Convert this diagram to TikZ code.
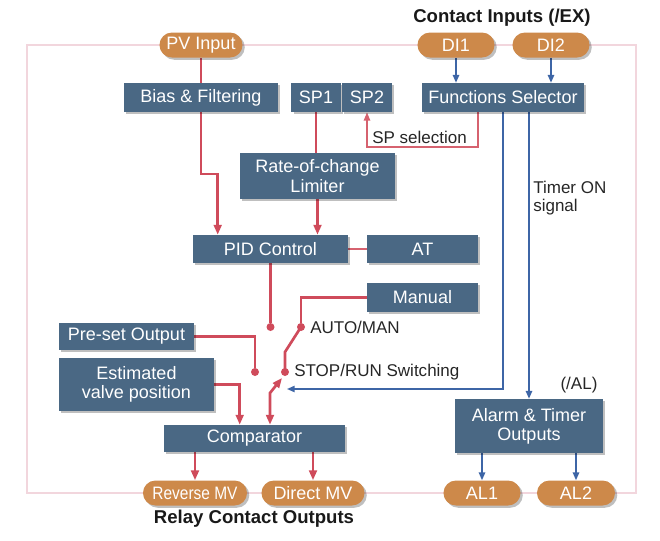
\documentclass[tikz,border=0pt]{standalone}
\usepackage{fontspec}
\setmainfont{Liberation Sans}
\usetikzlibrary{shapes,arrows.meta,positioning,calc,shadows,backgrounds}

\definecolor{boxblue}{HTML}{4A6884}
\definecolor{pillorange}{HTML}{CD894A}
\definecolor{wirered}{HTML}{CF4B5B}
\definecolor{selred}{HTML}{D6626F}
\definecolor{wireblue}{HTML}{3D65A6}
\definecolor{framepink}{HTML}{F2D6DD}

\tikzset{
  box/.style={fill=boxblue, text=white, minimum height=0.725cm, inner sep=0pt, align=center,
    font=\fontsize{12.8}{13.6}\selectfont,
    drop shadow={shadow xshift=1.6pt, shadow yshift=-1.6pt, fill=black, opacity=0.25}},
  pill/.style={shape=rounded rectangle, fill=pillorange, text=white, minimum height=0.625cm,
    inner sep=0pt, font=\fontsize{12.8}{13.6}\selectfont,
    drop shadow={shadow xshift=1.6pt, shadow yshift=-1.6pt, fill=black, opacity=0.25}},
  dot/.style={circle, fill=wirered, minimum size=0.2cm, inner sep=0pt},
  lbl/.style={inner sep=0pt, text=black!85, align=left, font=\fontsize{12.1}{12.6}\selectfont},
  ttl/.style={inner sep=0pt, text=black!90, font=\bfseries\fontsize{13.2}{14}\selectfont},
  wire/.style={wirered, line width=1.9pt},
  wirearrow/.style={wire, -{Triangle[length=7pt,width=5.5pt]}},
  selarrow/.style={selred, line width=1.3pt, -{Triangle[length=6pt,width=4.5pt]}},
  sig/.style={wireblue, line width=1.1pt},
  sigarrow/.style={sig, -{Triangle[length=5.5pt,width=4.5pt]}},
  border/.style={framepink, line width=1.4pt}
}

\begin{document}
\begin{tikzpicture}[x=0.025cm, y=-0.025cm]
    \useasboundingbox (0,0) rectangle (660,541);

    % Inputs and outputs
    \node[pill, minimum width=2.075cm] (pv) at (201,45) {PV Input};
    \node[pill, minimum width=1.925cm] (di1) at (456,45) {DI1};
    \node[pill, minimum width=1.925cm] (di2) at (551,45) {DI2};
    \node[pill, minimum width=2.6cm] (rev) at (195,493) {\scalebox{0.86}[1]{Reverse MV}};
    \node[pill, minimum width=2.575cm] (dir) at (313,493) {Direct MV};
    \node[pill, minimum width=1.925cm] (al1) at (482,493) {AL1};
    \node[pill, minimum width=1.95cm] (al2) at (576,493) {AL2};
    \node[ttl] (cin) at (502,18) {Contact Inputs (/EX)};
    \node[ttl] (rco) at (254,519) {Relay Contact Outputs};

    % Blocks
    \node[box, minimum width=3.85cm] (bias) at (201,97.5) {Bias \& Filtering};
    \node[box, minimum width=1.225cm] (spone) at (316,97.5) {SP1};
    \node[box, minimum width=1.25cm] (sptwo) at (367,97.5) {SP2};
    \node[box, minimum width=4.05cm] (fsel) at (503,97.5) {Functions Selector};
    \node[box, minimum width=3.875cm, minimum height=1.15cm] (rate) at (317.5,176) {Rate-of-change\\Limiter};
    \node[box, minimum width=3.875cm, minimum height=0.7cm] (pid) at (270.5,249) {PID Control};
    \node[box, minimum width=2.775cm, minimum height=0.7cm] (at) at (422.5,249) {AT};
    \node[box, minimum width=2.775cm] (manual) at (422.5,297.5) {Manual};
    \node[box, minimum width=3.375cm, minimum height=0.675cm] (preset) at (126.5,336.5) {Pre-set Output};
    \node[box, minimum width=3.875cm, minimum height=1.325cm] (est) at (136.5,384.5) {Estimated\\valve position};
    \node[box, minimum width=4.525cm, minimum height=0.675cm] (comp) at (254.5,438.5) {Comparator};
    \node[box, minimum width=3.7cm, minimum height=1.35cm] (alarm) at (529,426) {Alarm \& Timer\\Outputs};

    % Switch contacts
    \node[dot] (dpid) at (270.5,327) {};
    \node[dot] (dauto) at (301,327) {};
    \node[dot] (dpre) at (255,372) {};
    \node[dot] (dstop) at (285,372) {};
    \coordinate (bladebend) at (285,352);
    \coordinate (bladetip) at (282,378);
    \coordinate (bladeknee) at (270,393);
    \coordinate (stoptip) at (287,389);

    % Labels
    \node[lbl, anchor=west] (spsel) at (372,137) {SP selection};
    \node[lbl, anchor=west] (timer) at (533,198) {Timer ON\\signal};
    \node[lbl, anchor=west] (automan) at (310,327) {AUTO/MAN};
    \node[lbl, anchor=west] (stoprun) at (294,372) {STOP/RUN Switching};
    \node[lbl] (altag) at (579,385) {(/AL)};

    \begin{scope}[on background layer]
        \draw[border] (27,45) rectangle (636,493); % outer frame

        % PV path
        \draw[wire] (pv.south) -- (pv.south |- bias.north);
        \draw[wirearrow] (bias.south) -- (201,174) -| ([xshift=0.625cm]pid.north west);

        % SP path
        \draw[wire] (spone.south) -- (spone.south |- rate.north);
        \draw[wirearrow] (rate.south) -- (rate.south |- pid.north);
        \draw[selarrow] ([xshift=1.4cm]fsel.south west) -- ++(0,35) -| (sptwo.south);
        \draw[selred, line width=1.3pt] (pid.east) -- (at.west);

        % Switching
        \draw[wire] (pid.south) -- (dpid);
        \draw[wire] (manual.west) -| (dauto);
        \draw[wire] (dauto.center) -- (bladebend) -- (dstop.center);
        \draw[wire] (preset.east) -| (dpre);
        \draw[wire, {Triangle[length=7pt,width=5.5pt]}-{Triangle[length=7pt,width=5.5pt]}]
            (bladetip) -- (bladeknee) -- (bladeknee |- comp.north);
        \draw[wirearrow] (est.east) -| ([xshift=1.9cm]comp.north west);

        % Relay outputs
        \draw[wirearrow] (rev.north |- comp.south) -- (rev.north);
        \draw[wirearrow] (dir.north |- comp.south) -- (dir.north);

        % Contact inputs and alarms
        \draw[sigarrow] (di1.south) -- (di1.south |- fsel.north);
        \draw[sigarrow] (di2.south) -- (di2.south |- fsel.north);
        \draw[sigarrow] (fsel.south) |- (stoptip);
        \draw[sigarrow] (alarm.north |- fsel.south) -- (alarm.north);
        \draw[sigarrow] (al1.north |- alarm.south) -- (al1.north);
        \draw[sigarrow] (al2.north |- alarm.south) -- (al2.north);
    \end{scope}
\end{tikzpicture}
\end{document}
